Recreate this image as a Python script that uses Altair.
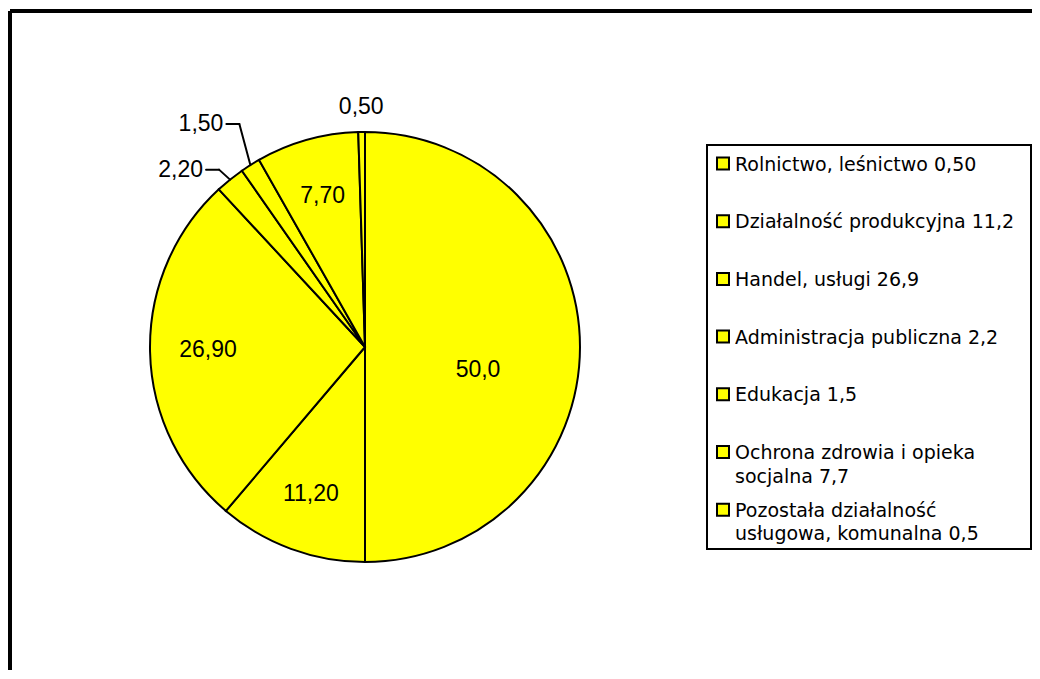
import altair as alt
import pandas as pd

# ---- data ----
slice_values = [50.0, 11.2, 26.9, 2.2, 1.5, 7.7, 0.5]
slice_labels = ["50,0", "11,20", "26,90", "2,20", "1,50", "7,70", "0,50"]
legend_labels = [
    "Rolnictwo, leśnictwo 0,50",
    "Działalność produkcyjna 11,2",
    "Handel, usługi 26,9",
    "Administracja publiczna 2,2",
    "Edukacja 1,5",
    "Ochrona zdrowia i opieka\nsocjalna 7,7",
    "Pozostała działalność\nusługowa, komunalna 0,5",
]

# ---- layout / style ----
W, H = 1024, 662
CX, CY, R = 357, 339, 215
FONT = "DejaVu Sans"
LABEL_FONT = "Liberation Sans"
YELLOW = "#FFFF00"

pie_df = pd.DataFrame({"idx": list(range(len(slice_values))),
                       "value": slice_values, "label": slice_labels})
leg_df = pd.DataFrame({"idx": list(range(len(legend_labels))), "item": legend_labels})
one = pd.DataFrame({"a": [0]})

# outer frame (top and left edges)
frame_top = alt.Chart(one).mark_rule(stroke="black", strokeWidth=4).encode(
    x=alt.value(2), x2=alt.value(W), y=alt.value(3))
frame_left = alt.Chart(one).mark_rule(stroke="black", strokeWidth=4).encode(
    x=alt.value(2), y=alt.value(3), y2=alt.value(H))

# pie slices
arcs = alt.Chart(pie_df).mark_arc(radius=R, stroke="black", strokeWidth=2, fill=YELLOW).encode(
    theta=alt.Theta("value:Q", stack=True),
    order=alt.Order("idx:Q"),
    x=alt.value(CX), y=alt.value(CY),
)

geo = alt.Chart(pie_df).transform_window(
    cum="sum(value)", sort=[alt.SortField("idx")], frame=[None, 0]
).transform_joinaggregate(total="sum(value)").transform_calculate(
    mid="2*PI*(datum.cum - datum.value/2)/datum.total",
).transform_calculate(
    ax=f"{CX} + {R}*sin(datum.mid)",
    ay=f"{CY} - {R}*cos(datum.mid)",
    lr="datum.value >= 50 ? 113 : (datum.value >= 5 ? 157 : 240)",
).transform_calculate(
    lx=f"{CX} + datum.lr*sin(datum.mid)",
    ly=f"{CY} - datum.lr*cos(datum.mid) + (datum.value >= 50 ? 23 : 0)",
    ex="datum.ax - 11",
    ey="datum.ay - (datum.value < 2 ? 41 : 10)",
).transform_calculate(
    hx="datum.ex - 13",
    tx="datum.ex - 16",
)

inner_labels = geo.transform_filter("datum.value >= 5 || datum.value < 1").mark_text(
    font=LABEL_FONT, fontSize=23, color="black", align="center", baseline="middle"
).encode(
    x=alt.X("lx:Q", scale=None, axis=None),
    y=alt.Y("ly:Q", scale=None, axis=None),
    text="label:N",
)

lead = geo.transform_filter("datum.value >= 1 && datum.value < 5")
leader1 = lead.mark_rule(stroke="black", strokeWidth=2, strokeCap="round").encode(
    x=alt.X("ax:Q", scale=None, axis=None), y=alt.Y("ay:Q", scale=None, axis=None),
    x2="ex:Q", y2="ey:Q")
leader2 = lead.mark_rule(stroke="black", strokeWidth=2, strokeCap="round").encode(
    x=alt.X("ex:Q", scale=None, axis=None), y=alt.Y("ey:Q", scale=None, axis=None),
    x2="hx:Q")
leader_text = lead.mark_text(font=LABEL_FONT, fontSize=23, color="black", align="right",
                             baseline="middle").encode(
    x=alt.X("tx:Q", scale=None, axis=None), y=alt.Y("ey:Q", scale=None, axis=None),
    text="label:N")

# legend
leg_box = alt.Chart(one).mark_rect(fill="white", stroke="black", strokeWidth=2).encode(
    x=alt.value(699), x2=alt.value(1023), y=alt.value(137), y2=alt.value(541))
leg_y = alt.Y("idx:O", scale=alt.Scale(type="point", range=[155.5, 501.7], padding=0), axis=None)
leg_sym = alt.Chart(leg_df).mark_square(size=144, fill=YELLOW, stroke="black",
                                         strokeWidth=2, opacity=1).encode(
    x=alt.value(715), y=leg_y)
leg_txt = alt.Chart(leg_df).mark_text(font=FONT, fontSize=19, color="black", align="left",
                                      baseline="top", dy=-8, lineBreak="\n",
                                      lineHeight=23.5).encode(
    x=alt.value(727), y=leg_y, text="item:N")

chart = alt.layer(
    frame_top, frame_left, arcs, leader1, leader2, inner_labels, leader_text,
    leg_box, leg_sym, leg_txt,
).resolve_scale(x="independent", y="independent").properties(
    width=W, height=H, padding=0, autosize=alt.AutoSizeParams(type="none"),
    background="white",
).configure_view(stroke=None)

chart.save("out.html", embed_options={"renderer": "svg", "actions": False})
